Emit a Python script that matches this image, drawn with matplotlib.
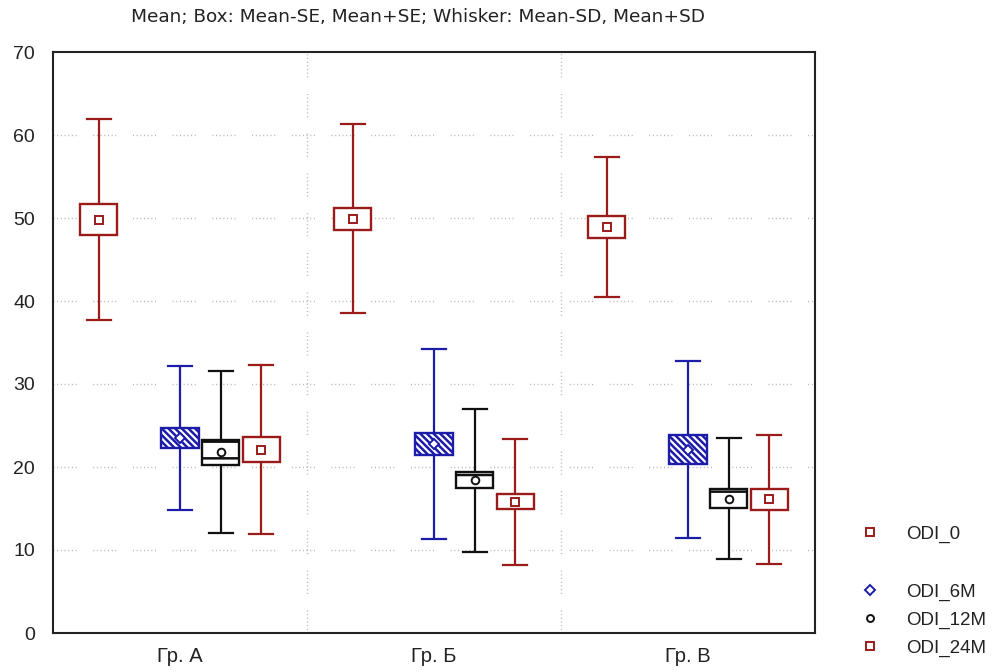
import matplotlib
matplotlib.use("Agg")
import matplotlib.pyplot as plt
from matplotlib.patches import Rectangle
from matplotlib.lines import Line2D

plt.rcParams['font.family'] = ['Liberation Sans', 'DejaVu Sans']
plt.rcParams['hatch.linewidth'] = 1.8

groups = ['Гр. А', 'Гр. Б', 'Гр. В']
series = ['ODI_0', 'ODI_6M', 'ODI_12M', 'ODI_24M']

mean_0 = [49.8, 49.9, 48.9]
se_0 = [1.9, 1.3, 1.35]
sd_0 = [12.1, 11.4, 8.4]

mean_6m = [23.5, 22.75, 22.1]
se_6m = [1.2, 1.35, 1.7]
sd_6m = [8.7, 11.45, 10.7]

mean_12m = [21.8, 18.4, 16.2]
se_12m = [1.5, 0.95, 1.1]
sd_12m = [9.75, 8.6, 7.25]

mean_24m = [22.1, 15.8, 16.1]
se_24m = [1.5, 0.9, 1.25]
sd_24m = [10.2, 7.6, 7.8]

y_ticks = [0, 10, 20, 30, 40, 50, 60, 70]
title = "Mean; Box: Mean-SE, Mean+SE; Whisker: Mean-SD, Mean+SD"

RED = '#9b1b1b'
BLUE = '#1c1ca8'
BLACK = '#111111'
TXT = '#222222'

styles = {
    'ODI_0': dict(color=RED, marker='s', ms=6, hatch=None, slot=0),
    'ODI_6M': dict(color=BLUE, marker='D', ms=5.5, hatch='\\\\\\\\\\', slot=2),
    'ODI_12M': dict(color=BLACK, marker='o', ms=5.5, hatch='-', slot=3),
    'ODI_24M': dict(color=RED, marker='s', ms=6, hatch=None, slot=4),
}
data = {
    'ODI_0': (mean_0, se_0, sd_0),
    'ODI_6M': (mean_6m, se_6m, sd_6m),
    'ODI_12M': (mean_12m, se_12m, sd_12m),
    'ODI_24M': (mean_24m, se_24m, sd_24m),
}

fig = plt.figure(figsize=(10.02, 6.72), dpi=100)
ax = fig.add_axes([53/1002, 1-633/672, (815-53)/1002, (633-52)/672])

slot_w = 0.160
box_w = 0.146
cap_w = 0.094

# grid
dash = (0, (0.7, 1.95) * 6 + (0.7, 12.0))
for yv in y_ticks[1:-1]:
    ax.axhline(yv, color='#b0b0b0', lw=1.0, linestyle=dash, zorder=0)
for xv in [0.5, 1.5]:
    ax.axvline(xv, color='#b0b0b0', lw=1.0, linestyle=dash, zorder=0)

for name in series:
    st = styles[name]
    means, ses, sds = data[name]
    for gi in range(len(groups)):
        x = gi + (st['slot'] - 2) * slot_w
        m, se, sd = means[gi], ses[gi], sds[gi]
        c = st['color']
        ax.plot([x, x], [m - sd, m + sd], color=c, lw=1.6, zorder=2, solid_capstyle='butt')
        ax.plot([x - cap_w/2, x + cap_w/2], [m + sd, m + sd], color=c, lw=1.6, zorder=2)
        ax.plot([x - cap_w/2, x + cap_w/2], [m - sd, m - sd], color=c, lw=1.6, zorder=2)
        rect = Rectangle((x - box_w/2, m - se), box_w, 2*se, facecolor='white',
                         edgecolor=c, lw=1.7, zorder=3, hatch=st['hatch'])
        ax.add_patch(rect)
        ax.plot([x], [m], marker=st['marker'], markersize=st['ms'],
                markerfacecolor='white', markeredgecolor=c, markeredgewidth=1.4,
                linestyle='none', zorder=4)

ax.set_xlim(-0.5, 2.5)
ax.set_ylim(0, 70)
ax.set_yticks(y_ticks)
ax.set_yticklabels([str(v) for v in y_ticks], fontsize=14, color=TXT)
ax.set_xticks(range(len(groups)))
ax.set_xticklabels(groups, fontsize=14.5, color=TXT)
ax.tick_params(axis='both', length=0)
ax.tick_params(axis='y', pad=13)
ax.tick_params(axis='x', pad=10)
for sp in ax.spines.values():
    sp.set_linewidth(1.5)
    sp.set_color(TXT)

fig.text(418/1002, 1-17/672, title, ha='center', va='center', fontsize=13.3,
         color=TXT, family='DejaVu Sans')

# legend (with an empty row after ODI_0, as in the original)
leg_y = [532, 590, 618, 646]
for name, yp in zip(series, leg_y):
    st = styles[name]
    fig.add_artist(Line2D([870/1002], [1-yp/672], transform=fig.transFigure,
                          marker=st['marker'], markersize=st['ms'] - 0.5,
                          markerfacecolor='white', markeredgecolor=st['color'],
                          markeredgewidth=1.4, linestyle='none'))
    fig.text(906/1002, 1-(yp+2)/672, name, ha='left', va='center', fontsize=13.5, color=TXT)

fig.savefig('out.png', dpi=100, facecolor='white')
